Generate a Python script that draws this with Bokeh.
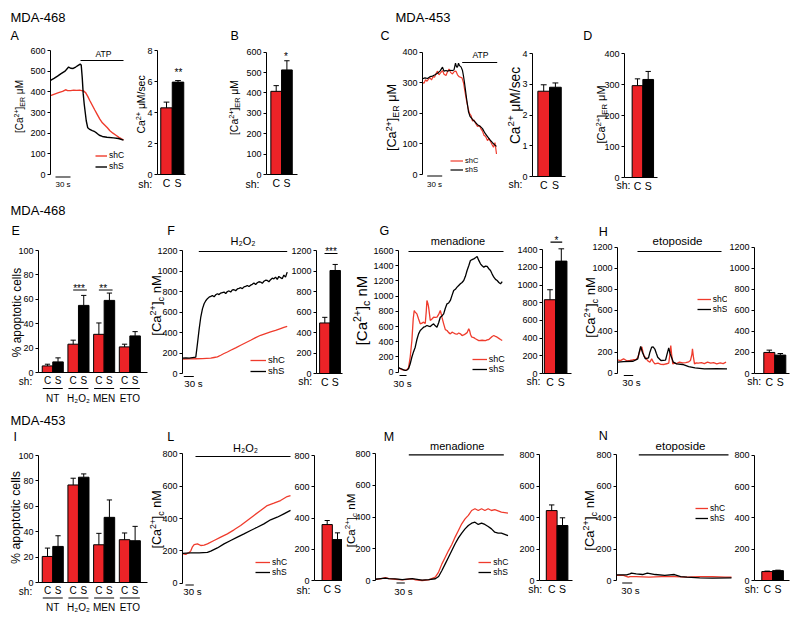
import math
from bokeh.plotting import figure
from bokeh.models import Range1d, Label, Legend, LegendItem, FixedTicker, LinearAxis
from bokeh.layouts import row, column
from bokeh.embed import file_html
from bokeh.resources import INLINE
from bokeh.core.properties import value

FONT = "Liberation Sans"
RED_BAR = "#ec2327"
RED_LINE = "#ef3b2c"
BLK = "#000000"

# ---------------------------------------------------------------- data
SH = ["C", "S"]
LEG = ["shC", "shS"]
GROUPS = ["NT", "H₂O₂", "MEN", "ETO"]

# A: ER Ca2+ traces (s, uM), MDA-468
A_C = [(0, 382), (8, 389), (16, 396), (24, 402), (30, 410), (34, 406), (40, 406), (46, 408), (52, 407),
       (58, 408), (62, 406), (66, 404), (70, 395), (74, 378), (78, 358), (83, 335), (88, 312), (93, 290),
       (98, 268), (103, 250), (108, 238), (113, 226), (118, 212), (124, 200), (130, 190), (136, 180),
       (141, 172), (145, 168)]
A_S = [(0, 455), (7, 465), (14, 476), (21, 488), (29, 500), (33, 512), (36, 520), (40, 514), (45, 513),
       (50, 520), (55, 528), (59, 534), (61, 530), (63, 470), (65, 390), (67, 340), (69, 300), (71, 260),
       (74, 226), (78, 218), (83, 212), (88, 207), (92, 200), (97, 190), (103, 184), (112, 180), (125, 177),
       (135, 174), (145, 166)]
A_RATE = [4.3, 5.96]
A_RATE_ERR = [0.37, 0.1]
B_ER = [408, 513]
B_ER_ERR = [28, 45]

# C: MDA-453
C_C = [(0, 302), (3, 298), (6, 310), (9, 305), (12, 312), (15, 316), (18, 309), (21, 320), (24, 318),
       (27, 330), (30, 338), (33, 326), (36, 332), (40, 340), (43, 328), (47, 324), (50, 336), (53, 345),
       (56, 334), (60, 329), (63, 336), (67, 338), (70, 326), (73, 320), (76, 318), (79, 316), (82, 300),
       (85, 270), (88, 242), (91, 218), (94, 200), (97, 193), (100, 175), (103, 178), (106, 168), (110, 157),
       (114, 160), (117, 149), (120, 142), (123, 128), (126, 125), (130, 111), (133, 118), (136, 108),
       (139, 98), (142, 89), (145, 104), (148, 67)]
C_S = [(0, 313), (5, 316), (10, 314), (15, 320), (20, 322), (25, 326), (30, 331), (35, 338), (40, 351),
       (43, 338), (47, 340), (50, 338), (55, 341), (60, 340), (63, 342), (66, 364), (68, 352), (70, 351),
       (72, 364), (74, 356), (77, 352), (80, 340), (82, 322), (84, 300), (86, 275), (88, 250), (90, 228),
       (92, 205), (95, 190), (100, 180), (105, 172), (110, 163), (115, 158), (120, 150), (125, 135),
       (130, 124), (135, 113), (140, 104), (145, 96), (148, 92)]
C_RATE = [2.78, 2.91]
C_RATE_ERR = [0.21, 0.14]
D_ER = [297, 317]
D_ER_ERR = [22, 26]

# E / I: % apoptotic cells
E_C = [5.4, 23.2, 31.3, 21.0]
E_C_ERR = [1.4, 3.3, 9.3, 2.2]
E_S = [8.7, 55.0, 59.1, 30.0]
E_S_ERR = [3.3, 8.2, 6.0, 3.5]
I_C = [20.5, 76.8, 29.7, 33.7]
I_C_ERR = [6.6, 5.3, 9.0, 5.3]
I_S = [28.4, 82.9, 51.3, 32.9]
I_S_ERR = [8.4, 2.6, 13.7, 11.3]

# F: H2O2, MDA-468 (s, nM)
F_C = [(0, 140), (20, 142), (40, 144), (60, 146), (85, 150), (95, 156), (105, 162), (115, 178), (125, 195),
       (135, 210), (145, 227), (160, 250), (175, 276), (190, 300), (205, 324), (220, 350), (235, 373),
       (250, 390), (265, 405), (280, 420), (295, 438), (305, 450), (315, 460)]
F_S = [(0, 150), (10, 152), (20, 150), (30, 155), (40, 160), (45, 292), (50, 430), (55, 551), (60, 630),
       (65, 681), (70, 710), (75, 730), (80, 745), (85, 752), (90, 760), (95, 748), (100, 768), (105, 778),
       (110, 770), (115, 785), (120, 790), (125, 795), (130, 780), (135, 800), (140, 805), (145, 795),
       (150, 815), (155, 817), (160, 808), (165, 825), (170, 830), (175, 837), (180, 828), (185, 845),
       (190, 850), (195, 859), (200, 848), (205, 862), (210, 870), (215, 882), (220, 868), (225, 885),
       (230, 895), (235, 892), (240, 880), (245, 900), (250, 910), (255, 908), (260, 895), (265, 915),
       (270, 930), (275, 924), (280, 940), (285, 918), (290, 947), (295, 935), (300, 925), (305, 960),
       (310, 940), (315, 989)]
F_BAR = [493, 1005]
F_BAR_ERR = [55, 59]

# G: menadione, MDA-468
G_C = [(0, 55), (5, 45), (10, 35), (15, 30), (20, 25), (25, 30), (30, 60), (35, 200), (40, 416), (44, 700),
       (47, 811), (50, 790), (55, 767), (60, 700), (65, 636), (70, 645), (75, 658), (80, 640), (83, 800),
       (85, 943), (88, 900), (90, 855), (95, 680), (100, 700), (105, 723), (110, 720), (115, 723), (120, 760),
       (125, 811), (128, 760), (130, 720), (135, 636), (140, 560), (145, 548), (150, 520), (155, 504),
       (160, 526), (165, 515), (170, 504), (175, 500), (180, 515), (185, 505), (190, 482), (195, 490),
       (200, 504), (205, 520), (210, 570), (213, 540), (215, 500), (218, 470), (220, 460), (225, 455),
       (230, 440), (240, 416), (250, 420), (260, 416), (265, 425), (270, 430), (275, 450), (280, 470),
       (285, 482), (290, 470), (295, 460), (300, 445), (305, 430), (310, 416)]
G_S = [(0, 60), (5, 50), (10, 42), (15, 30), (20, 25), (25, 28), (30, 45), (35, 110), (40, 200), (45, 270),
       (50, 329), (55, 430), (60, 504), (65, 548), (70, 570), (75, 592), (80, 600), (85, 614), (90, 605),
       (95, 600), (100, 620), (105, 636), (110, 610), (115, 592), (120, 650), (125, 723), (130, 740),
       (135, 767), (140, 840), (145, 899), (150, 910), (155, 943), (160, 1010), (165, 1074), (170, 1090),
       (175, 1118), (180, 1140), (185, 1162), (190, 1180), (195, 1205), (200, 1260), (205, 1337),
       (210, 1400), (215, 1469), (220, 1480), (225, 1490), (230, 1505), (235, 1521), (240, 1470),
       (245, 1425), (250, 1400), (255, 1381), (260, 1395), (265, 1390), (270, 1360), (275, 1337),
       (280, 1290), (285, 1249), (290, 1220), (295, 1205), (300, 1180), (305, 1162), (310, 1192)]
G_BAR = [835, 1272]
G_BAR_ERR = [113, 139]

# H: etoposide, MDA-468
H_C = [(0, 127), (10, 120), (21, 137), (32, 118), (43, 121), (54, 128), (64, 130), (70, 150), (75, 190),
       (80, 240), (84, 250), (88, 200), (92, 160), (96, 152), (104, 120), (112, 105), (118, 137), (123, 110),
       (129, 89), (140, 95), (150, 85), (161, 83), (170, 90), (177, 95), (182, 200), (184, 263), (187, 180),
       (191, 89), (198, 95), (204, 92), (214, 105), (225, 98), (236, 100), (246, 108), (252, 121), (257, 180),
       (259, 232), (262, 160), (266, 89), (272, 98), (279, 95), (290, 100), (300, 92), (311, 105), (322, 95),
       (332, 100), (343, 89), (355, 98), (365, 92), (375, 105)]
H_S = [(0, 105), (21, 110), (54, 114), (70, 137), (75, 200), (80, 254), (86, 200), (91, 168), (96, 137),
       (107, 145), (112, 200), (118, 248), (123, 250), (129, 230), (134, 190), (139, 152), (150, 121),
       (166, 125), (171, 180), (177, 241), (182, 184), (193, 105), (204, 89), (225, 83), (246, 63),
       (268, 51), (300, 41), (343, 44), (380, 41)]
H_BAR = [200, 175]
H_BAR_ERR = [22, 15]

# L: H2O2, MDA-453
L_C = [(0, 185), (5, 180), (10, 178), (15, 185), (20, 190), (25, 200), (30, 225), (35, 239), (45, 243),
       (55, 233), (65, 236), (75, 243), (95, 264), (115, 285), (135, 305), (155, 330), (175, 357), (195, 388),
       (215, 419), (235, 449), (255, 480), (275, 495), (295, 511), (315, 536), (325, 542)]
L_S = [(0, 185), (25, 188), (50, 187), (75, 190), (85, 198), (105, 218), (125, 243), (145, 264), (165, 285),
       (185, 305), (205, 326), (225, 346), (245, 367), (265, 392), (285, 408), (305, 429), (325, 450)]
L_BAR = [358, 262]
L_BAR_ERR = [26, 43]

# M: menadione, MDA-453
M_C = [(0, 8), (15, 10), (30, 18), (40, 12), (60, 8), (81, 4), (111, 11), (121, 4), (141, 0), (161, 4),
       (181, 21), (191, 53), (201, 105), (211, 147), (221, 189), (231, 227), (241, 274), (251, 316), (261, 358),
       (271, 389), (281, 411), (291, 442), (301, 453), (311, 442), (321, 453), (331, 442), (341, 453),
       (351, 442), (361, 447), (371, 440), (381, 432), (401, 425)]
M_S = [(0, 8), (15, 12), (30, 15), (40, 12), (60, 10), (81, 6), (111, 12), (141, 2), (161, 5), (181, 11),
       (191, 25), (201, 63), (211, 105), (221, 147), (231, 189), (241, 232), (251, 269), (261, 299), (271, 326),
       (281, 347), (291, 362), (301, 368), (311, 354), (321, 362), (331, 354), (341, 341), (351, 326),
       (361, 305), (371, 299), (381, 299), (401, 284)]
M_BAR = [445, 350]
M_BAR_ERR = [36, 49]

# N: etoposide, MDA-453
N_C = [(0, 32), (22, 32), (37, 21), (42, 25), (62, 25), (102, 21), (142, 25), (182, 25), (222, 21),
       (262, 25), (302, 25), (342, 21), (362, 21)]
N_S = [(0, 36), (32, 36), (42, 42), (47, 47), (62, 42), (82, 38), (97, 47), (122, 38), (152, 32), (182, 38),
       (202, 25), (222, 21), (262, 17), (302, 15), (362, 17)]
N_BAR = [57, 63]
N_BAR_ERR = [3, 3]

TK_600 = [0, 100, 200, 300, 400, 500, 600]
TK_400 = [0, 100, 200, 300, 400]
TK_RATE8 = [0, 2, 4, 6, 8]
TK_RATE4 = [0, 1, 2, 3, 4]
TK_PCT = [0, 20, 40, 60, 80, 100]
TK_1200 = [0, 200, 400, 600, 800, 1000, 1200]
TK_1400 = [0, 200, 400, 600, 800, 1000, 1200, 1400]
TK_1600 = [0, 200, 400, 600, 800, 1000, 1200, 1400, 1600]
TK_800 = [0, 200, 400, 600, 800]

# ---------------------------------------------------------------- helpers
CW = {'[': .278, ']': .278, 'C': .722, 'a': .556, '2': .556, '+': .584, 'E': .667, 'R': .722, ' ': .278,
      'μ': .576, 'M': .833, 'n': .556, 'c': .5, '/': .278, 's': .5, 'e': .556, '%': .889, 'p': .556,
      'o': .556, 't': .278, 'i': .222, 'l': .222}

CA_ER = [("[Ca", "n"), ("2+", "sup"), ("]", "n"), ("ER", "sub"), (" μM", "n")]
CA_C = [("[Ca", "n"), ("2+", "sup"), ("]", "n"), ("c", "sub"), (" nM", "n")]
RATE = [("Ca", "n"), ("2+", "sup"), (" μM/sec", "n")]
APOP = [("% apoptotic cells", "n")]

BASE_SHIFT = 0.38  # observed offset of the rendered alphabetic baseline, in em
TICK_FONT = "9px"


def tw(s, size):
    return sum(CW.get(ch, 0.556) for ch in s) * size


class Lin:
    def __init__(self, v0, p0, v1, p1):
        self.v0, self.p0 = v0, p0
        self.k = (p1 - p0) / (v1 - v0)

    def v(self, p):
        return self.v0 + (p - self.p0) / self.k


def unz(pairs):
    return [a for a, b in pairs], [b for a, b in pairs]


def style_axis(a, size):
    a.major_tick_in = 0
    a.minor_tick_out = 0
    a.minor_tick_in = 0
    a.axis_line_color = "black"
    a.major_tick_line_color = "black"
    a.major_label_text_font = FONT
    a.major_label_text_font_size = size
    a.major_label_text_color = "black"


class Panel:
    """One figure whose frame is its whole canvas; coordinates given in page pixels."""

    def __init__(self, box, xm, ym, axis_x, yticks):
        L, T, R, B = box
        self.l, self.b, self.xm, self.ym = L, B, xm, ym
        p = figure(width=R - L, height=B - T, x_range=Range1d(xm.v(L), xm.v(R)),
                   y_range=Range1d(ym.v(B), ym.v(T)), output_backend="svg", toolbar_location=None,
                   x_axis_location=None, y_axis_location=None, min_border=0, min_border_left=0,
                   min_border_right=0, min_border_top=0, min_border_bottom=0)
        if "frame_align" in p.properties():
            p.frame_align = False
        p.grid.visible = False
        p.outline_line_color = None
        p.background_fill_color = "white"
        p.border_fill_color = "white"
        ya = LinearAxis(fixed_location=xm.v(axis_x), ticker=FixedTicker(ticks=yticks),
                        bounds=(0, yticks[-1]), major_tick_out=3, major_label_standoff=2)
        style_axis(ya, TICK_FONT)
        p.add_layout(ya, "left")
        self.p = p
        self.axis_x = axis_x

    def xaxis(self, ticks, labels, axis_end, size="10.5px"):
        xa = LinearAxis(fixed_location=0, ticker=FixedTicker(ticks=ticks),
                        major_label_overrides={t: s for t, s in zip(ticks, labels)},
                        bounds=(self.xm.v(self.axis_x), self.xm.v(axis_end)), major_tick_out=0,
                        major_label_standoff=2)
        style_axis(xa, size)
        self.p.add_layout(xa, "below")

    def lab(self, x, y, text, size, align="left", angle=0.0):
        # x, y: page pixels of the alphabetic baseline anchor
        if angle:
            x = x - BASE_SHIFT * size
        else:
            y = y - BASE_SHIFT * size
        self.p.add_layout(Label(x=x - self.l, y=self.b - y, x_units="screen", y_units="screen", text=text,
                                text_font=FONT, text_font_size=f"{size}px", text_color="black",
                                text_align=align, text_baseline="alphabetic", angle=angle))

    def stars(self, cx, cy, text, size=10):
        self.lab(cx, cy + 0.58 * size, text, size, align="center")

    def ylab(self, cx, cy, parts, size):
        items = []
        for text, kind in parts:
            s = size * (0.7 if kind != "n" else 1.0)
            lead = 0.0
            if text.startswith(" "):
                lead = CW[" "] * s
                text = text.lstrip(" ")
            items.append((text, kind, s, lead))
        total = sum(tw(t, s) + ld for t, k, s, ld in items)
        yb = cy + total / 2.0
        xb = cx + 0.36 * size
        for t, k, s, ld in items:
            yb -= ld
            dx = {"n": 0.0, "sup": -0.40 * size, "sub": 0.22 * size}[k]
            self.lab(xb + dx, yb, t, round(s, 1), angle=math.pi / 2)
            yb -= tw(t, s)

    def seg(self, x0, x1, y, w=1.2):
        self.p.segment(x0=[self.xm.v(x0)], x1=[self.xm.v(x1)], y0=[self.ym.v(y)], y1=[self.ym.v(y)],
                       line_color="black", line_width=w)


def trace_panel(box, xm, ym, axis_x, ticks, red, blk, lw=1.3):
    P = Panel(box, xm, ym, axis_x, ticks)
    tc, vc = unz(red)
    ts, vs = unz(blk)
    rr = P.p.line(tc, vc, line_color=RED_LINE, line_width=lw)
    rb = P.p.line(ts, vs, line_color=BLK, line_width=lw)
    P.rends = [rr, rb]
    return P


def add_legend(P, x, yc, size, gw, rowh):
    top = yc - rowh / 2.0
    leg = Legend(items=[LegendItem(label=LEG[i], renderers=[P.rends[i]]) for i in range(2)],
                 location=(x - P.l, P.b - (top + 2 * rowh)), orientation="vertical",
                 padding=0, spacing=0, margin=0, glyph_width=gw, glyph_height=int(rowh),
                 label_height=int(rowh), label_standoff=2, label_text_font=FONT,
                 label_text_font_size=f"{size}px", label_text_color="black",
                 background_fill_alpha=0, border_line_alpha=0)
    P.p.add_layout(leg)


def bar_panel(box, xm, ym, axis_x, ticks, vals, errs, axis_end, sh_right, sh_base):
    P = Panel(box, xm, ym, axis_x, ticks)
    p = P.p
    xs = [i + 1 for i in range(len(SH))]
    p.vbar(x=xs, top=vals, width=1, fill_color=[RED_BAR, BLK], line_color="black", line_width=1)
    hi = [v + e for v, e in zip(vals, errs)]
    p.segment(x0=xs, y0=vals, x1=xs, y1=hi, line_color="black", line_width=1)
    p.segment(x0=[x - 0.25 for x in xs], y0=hi, x1=[x + 0.25 for x in xs], y1=hi, line_color="black",
              line_width=1)
    P.xaxis(xs, SH, axis_end)
    P.lab(sh_right, sh_base, "sh:", 10.5, align="right")
    return P


BW = 25    # bar width in x units of the grouped panels
GAPW = 11  # gap between groups in the same units


def group_panel(box, ym, cv, ce, sv, se, ticks, ys, sh_right):
    # x positions of the bars follow the groups / sh order
    xs = [gi * (len(SH) * BW + GAPW) + si * BW for gi in range(len(GROUPS)) for si in range(len(SH))]
    xm = Lin(0, 47.0, BW, 57.53)
    P = Panel(box, xm, ym, 38, ticks)
    p = P.p
    vals = [v for pair in zip(cv, sv) for v in pair]
    errs = [v for pair in zip(ce, se) for v in pair]
    cols = [c for _ in GROUPS for c in (RED_BAR, BLK)]
    p.vbar(x=xs, top=vals, width=BW, fill_color=cols, line_color="black", line_width=1)
    hi = [v + e for v, e in zip(vals, errs)]
    p.segment(x0=xs, y0=vals, x1=xs, y1=hi, line_color="black", line_width=1)
    p.segment(x0=[x - 0.25 * BW for x in xs], y0=hi, x1=[x + 0.25 * BW for x in xs], y1=hi,
              line_color="black", line_width=1)
    P.xaxis(xs, [s for _ in GROUPS for s in SH], 147, size="10px")
    _, ul, grp_base = ys
    cx = [(xs[2 * g] + xs[2 * g + 1]) / 2.0 for g in range(len(GROUPS))]
    p.segment(x0=[xs[2 * g] - 0.45 * BW for g in range(len(GROUPS))],
              x1=[xs[2 * g + 1] + 0.45 * BW for g in range(len(GROUPS))],
              y0=[ym.v(ul)] * len(GROUPS), y1=[ym.v(ul)] * len(GROUPS), line_color="black", line_width=1)
    p.text(x=cx, y=[ym.v(grp_base)] * len(GROUPS), text=GROUPS,
           text_font=value(FONT), text_font_size=value("10px"), text_align="center",
           text_baseline="alphabetic", text_color="black")
    P.lab(sh_right, ys[0], "sh:", 10, align="right")
    P.xs = xs
    return P


# ---------------------------------------------------------------- row 1
A1 = trace_panel((8, 8, 128, 196), Lin(0, 50, 145, 123), Lin(0, 174, 600, 50), 50, TK_600, A_C, A_S, lw=1.4)
A1.lab(10, 21.7, "MDA-468", 13)
A1.lab(10, 40, "A", 12.5)
A1.ylab(19, 106, CA_ER, 10)
A1.seg(80, 123, 60)
A1.lab(103, 56.7, "ATP", 8.6, align="center")
A1.seg(55, 70, 176.5)
A1.lab(62.5, 186.7, "30 s", 8, align="center")
add_legend(A1, 95, 155, 8.5, 12, 11)

A2 = bar_panel((128, 8, 215, 196), Lin(1, 166, 2, 177.5), Lin(0, 174, 8, 50), 157,
               TK_RATE8, A_RATE, A_RATE_ERR, 185, 151.7, 187.3)
A2.ylab(141, 104, RATE, 10.4)
A2.stars(178, 70, "**")

B1 = bar_panel((215, 8, 300, 196), Lin(1, 275.7, 2, 286.4), Lin(0, 174, 600, 51.7), 266,
               TK_600, B_ER, B_ER_ERR, 297, 259, 187.3)
B1.lab(230, 40, "B", 12.5)
B1.ylab(234, 107, CA_ER, 10.4)
B1.stars(285.5, 54, "*")

C1 = trace_panel((300, 8, 500, 196), Lin(0, 422, 150, 497), Lin(0, 174, 400, 51.7), 422, TK_400, C_C, C_S,
                 lw=1.2)
C1.lab(395, 21.7, "MDA-453", 13)
C1.lab(380, 40, "C", 12.5)
C1.ylab(392, 117, CA_ER, 12.7)
C1.seg(461.7, 496.7, 62)
C1.lab(480, 57.3, "ATP", 8.6, align="center")
C1.seg(426.7, 441.7, 175.5)
C1.lab(434, 186.7, "30 s", 8, align="center")
add_legend(C1, 450, 163.3, 7.5, 13, 7)

C2 = bar_panel((500, 8, 580, 196), Lin(1, 543.2, 2, 554.9), Lin(0, 176, 4, 53.3), 532,
               TK_RATE4, C_RATE, C_RATE_ERR, 565, 522, 187.7)
C2.ylab(515, 105, RATE, 13.8)

D1 = bar_panel((580, 8, 792, 196), Lin(1, 637, 2, 647.7), Lin(0, 177, 400, 53.3), 624,
               TK_400, D_ER, D_ER_ERR, 657, 630, 188)
D1.lab(582.7, 40, "D", 12.5)
D1.ylab(601, 114, CA_ER, 11)

# ---------------------------------------------------------------- row 2
E1 = group_panel((8, 196, 148, 404), Lin(0, 372, 100, 250), E_C, E_C_ERR, E_S, E_S_ERR,
                 TK_PCT, (385, 388, 397.7), 31.7)
E1.lab(10, 215, "MDA-468", 13)
E1.lab(11, 235, "E", 12.5)
E1.ylab(17, 312, APOP, 11.9)
E1.p.segment(x0=[E1.xs[2], E1.xs[4]], x1=[E1.xs[3] + 0.3 * BW, E1.xs[5] + 0.3 * BW],
             y0=[E1.ym.v(289.5)] * 2, y1=[E1.ym.v(289.5)] * 2, line_color="black", line_width=1)
E1.stars(78.5, 286, "***")
E1.stars(102.7, 286, "**")

F1 = trace_panel((148, 196, 288, 404), Lin(0, 182, 315, 286.7), Lin(0, 373, 1200, 250), 182, TK_1200, F_C, F_S)
F1.lab(166.7, 235, "F", 12.5)
F1.ylab(156.5, 305, CA_C, 13)
F1.seg(198.3, 286.7, 251)
F1.lab(242.5, 245, "H₂O₂", 11, align="center")
F1.seg(183.3, 193.3, 376)
F1.lab(193, 386.7, "30 s", 9.7, align="center")
add_legend(F1, 250, 361, 9.5, 16, 10)

F2 = bar_panel((288, 196, 350, 404), Lin(1, 324.3, 2, 334.7), Lin(0, 373, 1200, 250), 316,
               TK_1200, F_BAR, F_BAR_ERR, 341.7, 311.7, 384.5)
F2.seg(324, 337, 253)
F2.stars(330.5, 248.5, "***")

G1 = trace_panel((350, 196, 510, 404), Lin(0, 398, 310, 501.7), Lin(0, 371.7, 1600, 250), 398, TK_1600, G_C, G_S)
G1.lab(379, 235, "G", 12.5)
G1.ylab(361, 310, CA_C, 15)
G1.seg(408, 503, 251)
G1.lab(457.5, 245, "menadione", 11, align="center")
G1.seg(399, 406, 375)
G1.lab(402, 386.7, "30 s", 9.7, align="center")
add_legend(G1, 471.7, 357.7, 9, 15, 10.6)

G2 = bar_panel((510, 196, 580, 404), Lin(1, 549.5, 2, 560.8), Lin(0, 373, 1400, 249.3), 542,
               TK_1400, G_BAR, G_BAR_ERR, 571, 540, 384.5)
G2.seg(550, 561.7, 241.7)
G2.stars(556, 237.5, "*")

H1 = trace_panel((580, 196, 727, 404), Lin(0, 617, 380, 727), Lin(0, 372.7, 1200, 246.7), 617, TK_1200, H_C, H_S)
H1.lab(598.3, 236.7, "H", 12.5)
H1.ylab(590, 307, CA_C, 13)
H1.seg(637, 721, 251)
H1.lab(677, 245, "etoposide", 11.5, align="center")
H1.seg(623.3, 632.7, 375)
H1.lab(631, 385.5, "30 s", 9.7, align="center")
add_legend(H1, 696.7, 297.7, 8.5, 14, 10.6)

H2 = bar_panel((727, 196, 792, 404), Lin(1, 768.8, 2, 779.8), Lin(0, 373, 1200, 246.7), 754,
               TK_1200, H_BAR, H_BAR_ERR, 789, 760.7, 384.5)

# ---------------------------------------------------------------- row 3
I1 = group_panel((8, 404, 148, 612), Lin(0, 582, 100, 455), I_C, I_C_ERR, I_S, I_S_ERR,
                 TK_PCT, (594.5, 597.5, 607.2), 31.7)
I1.lab(10, 425, "MDA-453", 13)
I1.lab(13, 441.7, "I", 12.5)
I1.ylab(16, 517, APOP, 12.4)

L1 = trace_panel((148, 404, 292, 612), Lin(0, 182, 325, 290), Lin(0, 582.7, 800, 453.3), 182, TK_800, L_C, L_S)
L1.lab(166.7, 441.7, "L", 12.5)
L1.ylab(156.5, 519, CA_C, 12.5)
L1.seg(195, 290, 456)
L1.lab(245, 451.5, "H₂O₂", 11, align="center")
L1.seg(185, 193.3, 584.5)
L1.lab(192, 595, "30 s", 9.7, align="center")
add_legend(L1, 255, 561.7, 8.5, 15, 10)

L2 = bar_panel((292, 404, 342, 612), Lin(1, 326.7, 2, 337), Lin(0, 580, 800, 455), 314,
               TK_800, L_BAR, L_BAR_ERR, 344, 310, 593.3)

M1 = trace_panel((342, 404, 512, 612), Lin(0, 375, 401, 507.5), Lin(0, 580, 800, 453.3), 375, TK_800, M_C, M_S)
M1.lab(383.3, 441.7, "M", 12.5)
M1.ylab(350.5, 520, CA_C, 11.5)
M1.seg(408.3, 503.3, 454.3)
M1.lab(456.7, 450, "menadione", 11, align="center")
M1.seg(396, 404.3, 582.5)
M1.lab(403, 595, "30 s", 9.7, align="center")
add_legend(M1, 478.3, 561.7, 8.5, 13, 10)

M2 = bar_panel((512, 404, 578, 612), Lin(1, 551.2, 2, 562), Lin(0, 580, 800, 454.3), 539,
               TK_800, M_BAR, M_BAR_ERR, 571.7, 541.7, 592.5)

N1 = trace_panel((578, 404, 732, 612), Lin(0, 616, 362, 731), Lin(0, 580, 800, 454), 616, TK_800, N_C, N_S)
N1.lab(598.3, 440.7, "N", 12.5)
N1.ylab(589.5, 520, CA_C, 13)
N1.seg(638.3, 728, 454.3)
N1.lab(680, 450, "etoposide", 11.5, align="center")
N1.seg(621.7, 631.7, 582.5)
N1.lab(630, 593.3, "30 s", 9.7, align="center")
add_legend(N1, 695, 507.7, 8.5, 13, 10)

N2 = bar_panel((732, 404, 792, 612), Lin(1, 766.7, 2, 777.5), Lin(0, 580, 800, 454.7), 754,
               TK_800, N_BAR, N_BAR_ERR, 789, 758.3, 592.5)

layout = column(
    row(A1.p, A2.p, B1.p, C1.p, C2.p, D1.p, spacing=0),
    row(E1.p, F1.p, F2.p, G1.p, G2.p, H1.p, H2.p, spacing=0),
    row(I1.p, L1.p, L2.p, M1.p, M2.p, N1.p, N2.p, spacing=0),
    spacing=0, margin=(8, 0, 0, 8),
)

open("out.html", "w").write(file_html(layout, INLINE, title="Ca2+ figure"))
